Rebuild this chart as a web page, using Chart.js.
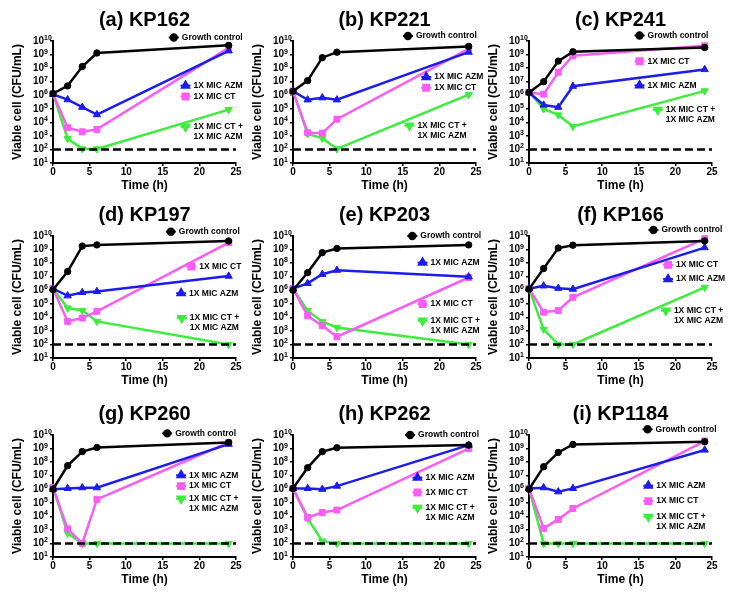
<!DOCTYPE html>
<html>
<head>
<meta charset="utf-8">
<script src="https://cdn.jsdelivr.net/npm/chart.js@4.4.0/dist/chart.umd.min.js"></script>
<style>
  body { margin: 0; background: #fff; width: 732px; height: 593px; position: relative; overflow: hidden; }
  canvas { position: absolute; }
</style>
</head>
<body>
<script>
// Sampling times (h)
const times = [0, 2, 4, 6, 24];

const panelTitles = ['(a) KP162', '(b) KP221', '(c) KP241', '(d) KP197', '(e) KP203',
                     '(f) KP166', '(g) KP260', '(h) KP262', '(i) KP1184'];

// Viable cells (CFU/mL), one row per panel, values at times[]
const growthControl = [
  [1.3e6, 4.9e6, 1.3e8, 1.3e9, 4.8e9],
  [2.0e6, 1.2e7, 5.9e8, 1.5e9, 4.0e9],
  [1.6e6, 1.0e7, 3.3e8, 1.6e9, 3.3e9],
  [1.1e6, 2.4e7, 1.8e9, 2.2e9, 4.3e9],
  [1.0e6, 2.0e7, 5.9e8, 1.2e9, 2.2e9],
  [1.2e6, 4.0e7, 1.3e9, 2.1e9, 4.3e9],
  [1.0e6, 5.5e7, 6.0e8, 1.2e9, 2.8e9],
  [1.15e6, 3.9e7, 5.9e8, 1.15e9, 1.8e9],
  [1.0e6, 4.6e7, 5.2e8, 2.0e9, 3.2e9]
];
const micAzm = [
  [1.15e6, 4.7e5, 1.3e5, 3.7e4, 1.9e9],
  [2.0e6, 4.6e5, 6.5e5, 4.6e5, 1.5e9],
  [1.6e6, 1.9e5, 1.3e5, 4.6e6, 7.9e7],
  [1.3e6, 3.9e5, 6.9e5, 8.1e5, 1.1e7],
  [1.3e6, 3.2e6, 1.5e7, 3.0e7, 9.8e6],
  [1.3e6, 2.1e6, 1.4e6, 1.2e6, 1.4e9],
  [1.0e6, 1.15e6, 1.3e6, 1.3e6, 2.1e9],
  [1.15e6, 1.15e6, 1.0e6, 1.7e6, 1.8e9],
  [1.15e6, 1.3e6, 6.5e5, 1.15e6, 7.8e8]
];
const micCt = [
  [1.3e6, 4.0e3, 2.0e3, 3.0e3, 3.1e9],
  [2.0e6, 1.7e3, 1.6e3, 1.7e4, 2.6e9],
  [1.6e6, 1.2e6, 5.0e7, 8.1e8, 4.4e9],
  [1.3e6, 5.0e3, 8.9e3, 2.8e4, 3.2e9],
  [1.3e6, 1.3e4, 2.4e3, 3.7e2, 8.7e6],
  [1.3e6, 2.4e4, 3.2e4, 3.0e5, 6.3e9],
  [1.3e6, 1.2e3, 1.0e2, 1.8e5, 2.8e9],
  [1.15e6, 8.3e3, 1.9e4, 2.9e4, 1.0e9],
  [1.15e6, 1.3e3, 5.9e3, 3.8e4, 3.6e9]
];
const micCtAzm = [
  [1.3e6, 6.3e2, 1.1e2, 1.1e2, 8.7e4],
  [2.0e6, 1.4e3, 6.8e2, 1.1e2, 1.1e6],
  [1.8e6, 9.8e4, 3.5e4, 5.0e3, 2.1e6],
  [1.3e6, 4.8e4, 3.2e4, 5.0e3, 1.0e2],
  [1.3e6, 3.1e4, 4.8e3, 1.8e3, 1.0e2],
  [1.3e6, 1.3e3, 1.0e2, 1.0e2, 1.6e6],
  [1.4e6, 5.6e2, 1.0e2, 1.0e2, 1.0e2],
  [1.15e6, 6.9e3, 1.5e2, 1.0e2, 1.0e2],
  [1.15e6, 1.0e2, 1.0e2, 1.0e2, 1.0e2]
];
const detectionLimit = 100;
const xTicks = [0, 5, 10, 15, 20, 25];
const yDecades = [1e1, 1e2, 1e3, 1e4, 1e5, 1e6, 1e7, 1e8, 1e9, 1e10];

// series: label lines + style
const seriesInfo = {
  gc:    { lines: ['Growth control'],            color: '#000000', style: 'circle',   radius: 3.2, rotation: 0 },
  azm:   { lines: ['1X MIC AZM'],                color: '#1c1cec', style: 'triangle', radius: 4.2, rotation: 0 },
  ct:    { lines: ['1X MIC CT'],                 color: '#fa5cf5', style: 'rect',     radius: 4.2, rotation: 0 },
  combo: { lines: ['1X MIC CT +', '1X MIC AZM'], color: '#3ded3d', style: 'triangle', radius: 4.2, rotation: 180 }
};

// inline legend anchor per panel: [time, log10 CFU]
const legendSpots = [
  { gc: [16.5, 10.26], azm: [18.1, 6.71], ct: [18.1, 5.91], combo: [18.1, 3.67] },
  { gc: [15.7, 10.37], azm: [18.2, 7.34], ct: [18.2, 6.55], combo: [15.9, 3.76] },
  { gc: [15.1, 10.41], ct: [15.1, 8.5], azm: [15.1, 6.73], combo: [17.6, 4.92] },
  { gc: [16.1, 10.32], ct: [18.9, 7.75], azm: [17.5, 5.78], combo: [17.6, 3.95] },
  { gc: [16.3, 10.0], azm: [17.7, 8.04], ct: [17.7, 4.98], combo: [17.7, 3.75] },
  { gc: [17.0, 10.44], ct: [19.0, 7.87], azm: [19.0, 6.82], combo: [18.7, 4.5] },
  { gc: [15.6, 10.12], azm: [17.5, 7.03], ct: [17.5, 6.23], combo: [17.5, 5.3] },
  { gc: [16.0, 10.0], azm: [17.0, 6.85], ct: [17.0, 5.76], combo: [17.0, 4.63] },
  { gc: [16.2, 10.42], azm: [16.3, 6.26], ct: [16.3, 5.12], combo: [16.3, 3.97] }
];

// page layout of plot areas
const colLeft = [53, 293, 529];
const rowTop = [41, 236, 435];
const plotW = 183, plotH = 122;
const yAxisW = 52, xAxisH = 35, titleH = 41, padRight = 20;

const FONT = "'Liberation Sans', Arial, sans-serif";

function markerOpts(s) {
  return { pointStyle: s.style, radius: s.radius, rotation: s.rotation, borderWidth: 1 };
}

// superscript exponents next to the "10" tick labels
const exponentPlugin = {
  id: 'exponents',
  afterDraw(chart) {
    const y = chart.scales.y;
    const ctx = chart.ctx;
    ctx.save();
    ctx.fillStyle = '#000';
    ctx.font = 'bold 7px ' + FONT;
    ctx.textAlign = 'left';
    ctx.textBaseline = 'alphabetic';
    y.ticks.forEach(t => {
      const py = y.getPixelForValue(t.value);
      ctx.fillText(String(Math.round(Math.log10(t.value))), y.right - 9, py - 1);
    });
    ctx.restore();
  }
};

// inline legend entries
const inlineLegend = {
  id: 'inlineLegend',
  afterDraw(chart, args, opts) {
    const ctx = chart.ctx;
    const xs = chart.scales.x, ys = chart.scales.y;
    ctx.save();
    Object.keys(opts.spots).forEach(key => {
      const s = seriesInfo[key];
      const [t, lg] = opts.spots[key];
      const px = xs.getPixelForValue(t);
      const py = ys.getPixelForValue(Math.pow(10, lg));
      ctx.strokeStyle = s.color;
      ctx.fillStyle = s.color;
      ctx.lineWidth = 2;
      ctx.beginPath();
      ctx.moveTo(px - 5, py);
      ctx.lineTo(px + 5, py);
      ctx.stroke();
      Chart.helpers.drawPoint(ctx, markerOpts(s), px, py);
      ctx.fillStyle = '#000';
      ctx.font = 'bold 8.5px ' + FONT;
      ctx.textAlign = 'left';
      ctx.textBaseline = 'middle';
      s.lines.forEach((line, k) => ctx.fillText(line, px + 8, py + k * 10));
    });
    ctx.restore();
  }
};

function seriesDataset(key, values) {
  const s = seriesInfo[key];
  return {
    label: s.lines.join(' '),
    data: times.map((t, k) => ({ x: t, y: values[k] })),
    borderColor: s.color,
    backgroundColor: s.color,
    borderWidth: 2.5,
    pointStyle: s.style,
    pointRadius: s.radius,
    pointRotation: s.rotation,
    pointBorderWidth: 1,
    tension: 0,
    clip: false
  };
}

panelTitles.forEach((title, i) => {
  const col = i % 3, row = Math.floor(i / 3);
  const canvas = document.createElement('canvas');
  const w = yAxisW + plotW + padRight;
  const h = titleH + plotH + xAxisH;
  canvas.width = w;
  canvas.height = h;
  canvas.style.left = (colLeft[col] - yAxisW) + 'px';
  canvas.style.top = (rowTop[row] - titleH) + 'px';
  document.body.appendChild(canvas);

  new Chart(canvas.getContext('2d'), {
    type: 'line',
    data: {
      datasets: [
        {
          label: 'Detection limit',
          data: [{ x: xTicks[0], y: detectionLimit }, { x: xTicks[xTicks.length - 1], y: detectionLimit }],
          borderColor: '#000',
          borderWidth: 2.5,
          borderDash: [8, 4],
          pointRadius: 0,
          clip: false
        },
        seriesDataset('gc', growthControl[i]),
        seriesDataset('azm', micAzm[i]),
        seriesDataset('ct', micCt[i]),
        seriesDataset('combo', micCtAzm[i])
      ]
    },
    options: {
      responsive: false,
      animation: false,
      devicePixelRatio: 1,
      layout: { padding: { left: 0, right: padRight, top: 0, bottom: 0 } },
      plugins: {
        legend: { display: false },
        tooltip: { enabled: false },
        title: {
          display: true,
          text: title,
          fullSize: false,
          color: '#000',
          font: { family: FONT, size: 20, weight: 'bold' },
          padding: { top: 8, bottom: 9 }
        },
        inlineLegend: { spots: legendSpots[i] }
      },
      scales: {
        x: {
          type: 'linear',
          min: 0,
          max: 25,
          afterBuildTicks: s => { s.ticks = xTicks.map(v => ({ value: v })); },
          afterFit: s => { s.height = xAxisH; },
          ticks: { color: '#000', font: { family: FONT, size: 10, weight: 'bold' }, padding: 0, maxRotation: 0 },
          grid: { display: true, drawOnChartArea: false, drawTicks: true, tickLength: 3, color: '#000', lineWidth: 1.5 },
          border: { display: true, color: '#000', width: 2 },
          title: { display: true, text: 'Time (h)', color: '#000',
                   font: { family: FONT, size: 12, weight: 'bold' }, padding: { top: 0, bottom: 5 } }
        },
        y: {
          type: 'logarithmic',
          min: 10,
          max: 1e10,
          afterBuildTicks: s => { s.ticks = yDecades.map(v => ({ value: v })); },
          afterFit: s => { s.width = yAxisW; },
          ticks: { color: '#000', font: { family: FONT, size: 10, weight: 'bold' }, padding: 6,
                   autoSkip: false, callback: () => '10' },
          grid: { display: true, drawOnChartArea: false, drawTicks: true, tickLength: 3, color: '#000', lineWidth: 1.5 },
          border: { display: true, color: '#000', width: 2 },
          title: { display: true, text: 'Viable cell (CFU/mL)', color: '#000',
                   font: { family: FONT, size: 12, weight: 'bold' }, padding: { top: 9, bottom: 0 } }
        }
      }
    },
    plugins: [exponentPlugin, inlineLegend]
  });
});
</script>
</body>
</html>
